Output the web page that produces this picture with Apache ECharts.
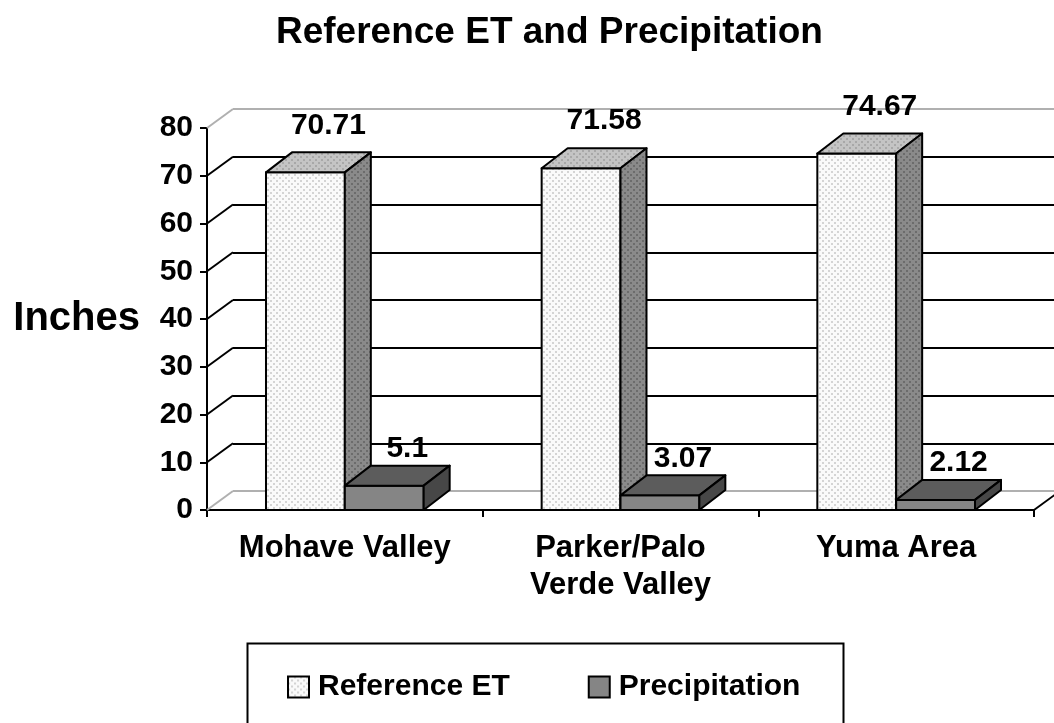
<!DOCTYPE html>
<html>
<head>
<meta charset="utf-8">
<script src="https://cdn.jsdelivr.net/npm/echarts@6/dist/echarts.min.js"></script>
<style>
html, body { margin: 0; padding: 0; background: #fff; }
#chart { width: 1054px; height: 723px; }
</style>
</head>
<body>
<div id="chart"></div>
<script>
var categories = ['Mohave Valley', 'Parker/Palo\nVerde Valley', 'Yuma Area'];
var referenceET = [70.71, 71.58, 74.67];
var precipitation = [5.1, 3.07, 2.12];
var yTicks = [0, 10, 20, 30, 40, 50, 60, 70, 80];

var FONT = '"Liberation Sans", Arial, sans-serif';
var DX = 26, DY = -19;    // wall depth
var BDX = 26, BDY = -20;  // box depth

// small dotted fill like the old excel pattern
function dots(bg, dot) {
	var c = document.createElement('canvas');
	c.width = 6; c.height = 6;
	var g = c.getContext('2d');
	g.fillStyle = bg;
	g.fillRect(0, 0, 6, 6);
	g.fillStyle = dot;
	g.fillRect(0, 0, 2, 2);
	g.fillRect(3, 3, 2, 2);
	return { image: c, repeat: 'repeat' };
}

var etFaces = {
	front: dots('#fafafa', '#d4d4d4'),
	top: dots('#c4c4c4', '#a8a8a8'),
	side: dots('#8a8a8a', '#6c6c6c')
};
var prFaces = { front: '#858585', top: '#5c5c5c', side: '#474747' };

// lift = how far the value label sits above the front top edge
function boxItem(leftSide, faces, lift) {
	return function (params, api) {
		var i = api.value(0), v = api.value(1);
		var base = api.coord([i, 0]);
		var top = api.coord([i, v]);
		var w = api.size([1, 0])[0] * 0.286;
		var x0 = leftSide ? base[0] - w : base[0];
		var x1 = x0 + w, t = top[1], b = base[1];
		function st(fill) {
			return { fill: fill, stroke: '#000', lineWidth: 2, lineJoin: 'round' };
		}
		return {
			type: 'group',
			children: [
				{ type: 'rect', shape: { x: x0, y: t, width: w, height: b - t }, style: st(faces.front) },
				{ type: 'polygon', shape: { points: [[x0, t], [x0 + BDX, t + BDY], [x1 + BDX, t + BDY], [x1, t]] }, style: st(faces.top) },
				{ type: 'polygon', shape: { points: [[x1, t], [x1 + BDX, t + BDY], [x1 + BDX, b + BDY], [x1, b]] }, style: st(faces.side) },
				{
					type: 'text', x: x0 + (w + BDX) / 2 + 10, y: t - lift,
					style: {
						text: String(v), fill: '#000', fontSize: 30, fontWeight: 'bold',
						fontFamily: FONT, align: 'center', verticalAlign: 'bottom'
					}
				}
			]
		};
	};
}

// diagonal lines on the left wall / floor edges
function wallItem(params, api) {
	var v = api.value(1);
	var p = api.coord([0, v]);
	var cs = params.coordSys;
	var grey = (v === yTicks[0] || v === yTicks[yTicks.length - 1]);
	var kids = [{
		type: 'line',
		shape: { x1: cs.x, y1: p[1], x2: cs.x + DX, y2: p[1] + DY },
		style: { stroke: grey ? '#b0b0b0' : '#000', lineWidth: 2 }
	}];
	if (v === yTicks[0]) {
		kids.push({
			type: 'line',
			shape: { x1: cs.x + cs.width, y1: p[1], x2: cs.x + cs.width + DX, y2: p[1] + DY },
			style: { stroke: '#000', lineWidth: 2 }
		});
	}
	return { type: 'group', children: kids };
}

var wallColors = yTicks.map(function (v, k) {
	return (k === 0 || k === yTicks.length - 1) ? '#b0b0b0' : '#000';
});

var chart = echarts.init(document.getElementById('chart'), null, { renderer: 'canvas' });

var option = {
	backgroundColor: '#fff',
	animation: false,
	title: {
		text: 'Reference ET and Precipitation',
		left: 271, top: 9,
		textStyle: { fontSize: 37, fontWeight: 'bold', fontFamily: FONT, color: '#000' }
	},
	legend: {
		left: 282, top: 667,
		selectedMode: false,
		itemWidth: 21, itemHeight: 21, itemGap: 78,
		textStyle: { fontSize: 30, fontWeight: 'bold', fontFamily: FONT, color: '#000', padding: [0, 0, 0, 4] },
		data: [
			{ name: 'Reference ET', icon: 'rect', itemStyle: { color: etFaces.front, borderColor: '#000', borderWidth: 2 } },
			{ name: 'Precipitation', icon: 'rect', itemStyle: { color: prFaces.front, borderColor: '#000', borderWidth: 2 } }
		]
	},
	graphic: [{
		type: 'rect', left: 245, top: 641,
		shape: { width: 596, height: 110 },
		style: { fill: 'none', stroke: '#000', lineWidth: 2 }
	}],
	grid: [
		{ left: 207, right: 20, top: 128, bottom: 213 },
		{ left: 233, right: 0, top: 109, bottom: 232 }
	],
	xAxis: [{
		type: 'category', gridIndex: 0, data: categories, boundaryGap: true,
		axisLine: { lineStyle: { color: '#000', width: 2 } },
		axisTick: { show: true, length: 7, lineStyle: { color: '#000', width: 2 } },
		axisLabel: { interval: 0, margin: 20, color: '#000', fontSize: 31, fontWeight: 'bold', fontFamily: FONT, lineHeight: 37 },
		splitLine: { show: false }
	}, {
		type: 'value', gridIndex: 1, show: false
	}],
	yAxis: [{
		type: 'value', gridIndex: 0, min: 0, max: 80, interval: 10,
		name: 'Inches', nameLocation: 'middle', nameRotate: 0, nameGap: 67,
		nameTextStyle: { fontSize: 40, fontWeight: 'bold', fontFamily: FONT, color: '#000' },
		axisLine: { show: true, lineStyle: { color: '#000', width: 2 } },
		axisTick: { show: true, length: 7, lineStyle: { color: '#000', width: 2 } },
		axisLabel: { margin: 14, color: '#000', fontSize: 30, fontWeight: 'bold', fontFamily: FONT },
		splitLine: { show: false }
	}, {
		type: 'value', gridIndex: 1, min: 0, max: 80, interval: 10,
		axisLine: { show: false }, axisTick: { show: false }, axisLabel: { show: false },
		splitLine: { show: true, lineStyle: { color: wallColors, width: 2 } }
	}],
	series: [{
		name: 'wall', type: 'custom', xAxisIndex: 0, yAxisIndex: 0, z: 1, clip: false,
		renderItem: wallItem,
		data: yTicks.map(function (v) { return [0, v]; })
	}, {
		name: 'Reference ET', type: 'custom', xAxisIndex: 0, yAxisIndex: 0, z: 3, clip: false,
		itemStyle: { color: etFaces.front },
		renderItem: boxItem(true, etFaces, 32),
		data: referenceET.map(function (v, i) { return [i, v]; })
	}, {
		name: 'Precipitation', type: 'custom', xAxisIndex: 0, yAxisIndex: 0, z: 4, clip: false,
		itemStyle: { color: prFaces.front },
		renderItem: boxItem(false, prFaces, 22),
		data: precipitation.map(function (v, i) { return [i, v]; })
	}]
};
chart.setOption(option);
</script>
</body>
</html>
